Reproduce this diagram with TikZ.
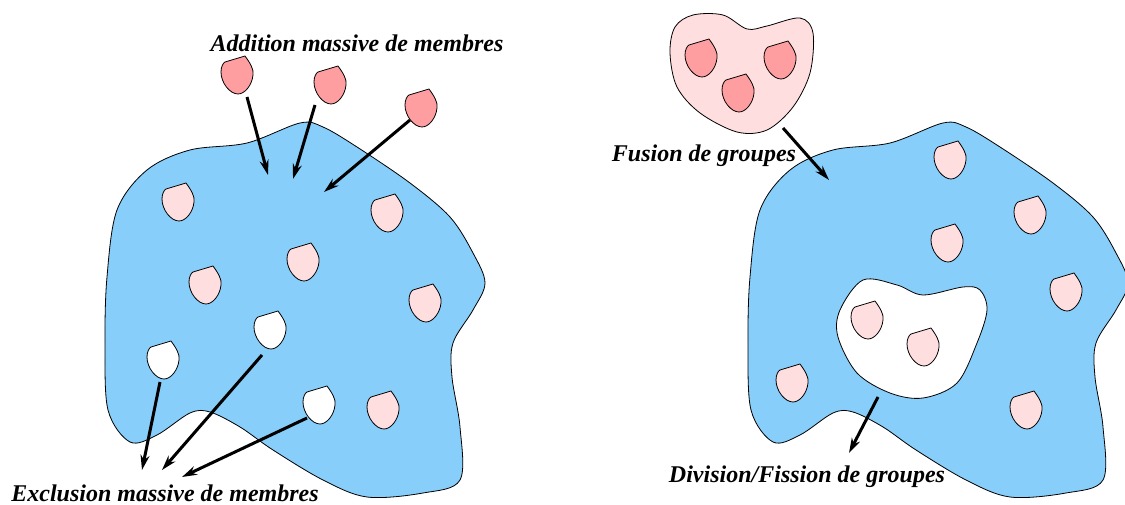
\documentclass[tikz,border=0pt]{standalone}
\usepackage{fontspec}
\setmainfont{Liberation Serif}
\usetikzlibrary{arrows.meta}
\definecolor{blobblue}{RGB}{135,206,250}
\definecolor{memlight}{RGB}{255,222,224}
\definecolor{memred}{RGB}{255,158,160}
\tikzset{
  member/.pic={\path[pic actions] (-12,-13) -- (8,-19) .. controls (13,-12) and (17,-6) .. (16,0) .. controls (15,10) and (8,19) .. (1,19) .. controls (-7,19) and (-16,8) .. (-16,-3) .. controls (-16,-8) and (-14,-12) .. (-12,-13) -- cycle;},
  mlight/.style={draw=black,line width=0.8pt,fill=memlight},
  mred/.style={draw=black,line width=0.8pt,fill=memred},
  mwhite/.style={draw=black,line width=0.8pt,fill=white},
  blob/.style={draw=black,line width=0.8pt,fill=blobblue},
  bigarrow/.style={line width=3pt,-{Stealth[length=15pt,width=9pt]}},
  lbl/.style={font=\fontsize{24}{28}\selectfont\bfseries\itshape,inner sep=0pt}
}
\begin{document}
\begin{tikzpicture}[x=1pt,y=-1pt]
\useasboundingbox (0,0) rectangle (1125,505);
% left blob
\path[blob] plot[smooth cycle,tension=0.55] coordinates {(300,123) (323,127) (357,147) (410,183) (450,217) (473,253) (485,283) (473,310) (453,343) (452,377) (460,427) (460,480) (423,493) (367,497) (323,480) (273,450) (240,427) (210,412) (190,413) (157,435) (130,442) (108,410) (105,343) (107,277) (117,210) (147,170) (190,150) (247,143)};
% right blob
\begin{scope}[xshift=643pt]
\path[blob] plot[smooth cycle,tension=0.55] coordinates {(300,123) (323,127) (357,147) (410,183) (450,217) (473,253) (485,283) (473,310) (453,343) (452,377) (460,427) (460,480) (423,493) (367,497) (323,480) (273,450) (240,427) (210,412) (190,413) (157,435) (130,442) (108,410) (105,343) (107,277) (117,210) (147,170) (190,150) (247,143)};
\end{scope}
% inner white group
\path[mwhite] plot[smooth cycle,tension=0.55] coordinates {(863,280) (897,285) (923,295) (963,287) (980,290) (987,310) (977,343) (957,383) (923,398) (890,393) (857,373) (838,337) (840,310)};
% top pink group
\path[mlight] plot[smooth cycle,tension=0.55] coordinates {(693,15) (723,15) (747,29) (767,26) (800,18) (813,33) (810,73) (793,107) (767,130) (737,132) (700,113) (677,87) (670,53) (675,27)};
% members left
\pic[mred] (r1) at (237,75) {member};
\pic[mred] (r2) at (330,85) {member};
\pic[mred] (r3) at (421,108) {member};
\pic[mlight] (p1) at (178,202) {member};
\pic[mlight] (p2) at (387,213) {member};
\pic[mlight] (p3) at (303,262) {member};
\pic[mlight] (p4) at (205,285) {member};
\pic[mlight] (p5) at (425,303) {member};
\pic[mlight] (p6) at (383,410) {member};
\pic[mwhite] (w1) at (270,330) {member};
\pic[mwhite] (w2) at (163,360) {member};
\pic[mwhite] (w3) at (319,405) {member};
% members right
\pic[mlight] (q1) at (950,160) {member};
\pic[mlight] (q2) at (1030,215) {member};
\pic[mlight] (q3) at (947,243) {member};
\pic[mlight] (q4) at (1066,292) {member};
\pic[mlight] (q5) at (792,383) {member};
\pic[mlight] (q6) at (1026,410) {member};
\pic[mlight] (q7) at (867,320) {member};
\pic[mlight] (q8) at (923,347) {member};
\pic[mred] (g1) at (701,58) {member};
\pic[mred] (g2) at (780,60) {member};
\pic[mred] (g3) at (738,93) {member};
% labels
\node[lbl] (add) at (357,43) {Addition massive de membres};
\node[lbl] (excl) at (165,493) {Exclusion massive de membres};
\node[lbl] (fus) at (704,156) {Fusion de groupes};
\node[lbl] (div) at (807,477) {Division/Fission de groupes};
% arrow coordinates
\coordinate (a1s) at (247,97);  \coordinate (a1e) at (268,175);
\coordinate (a2s) at (315,105); \coordinate (a2e) at (293,179);
\coordinate (a3s) at (410,120); \coordinate (a3e) at (324,192);
\coordinate (e1s) at (160,382); \coordinate (e1e) at (142,470);
\coordinate (e2s) at (262,355); \coordinate (e2e) at (162,470);
\coordinate (e3s) at (307,418); \coordinate (e3e) at (182,477);
\coordinate (fs) at (783,128);  \coordinate (fe) at (829,180);
\coordinate (ds) at (878,397);  \coordinate (de) at (849,453);
\draw[bigarrow] (a1s) -- (a1e);
\draw[bigarrow] (a2s) -- (a2e);
\draw[bigarrow] (a3s) -- (a3e);
\draw[bigarrow] (e1s) -- (e1e);
\draw[bigarrow] (e2s) -- (e2e);
\draw[bigarrow] (e3s) -- (e3e);
\draw[bigarrow] (fs) -- (fe);
\draw[bigarrow] (ds) -- (de);
\end{tikzpicture}
\end{document}
